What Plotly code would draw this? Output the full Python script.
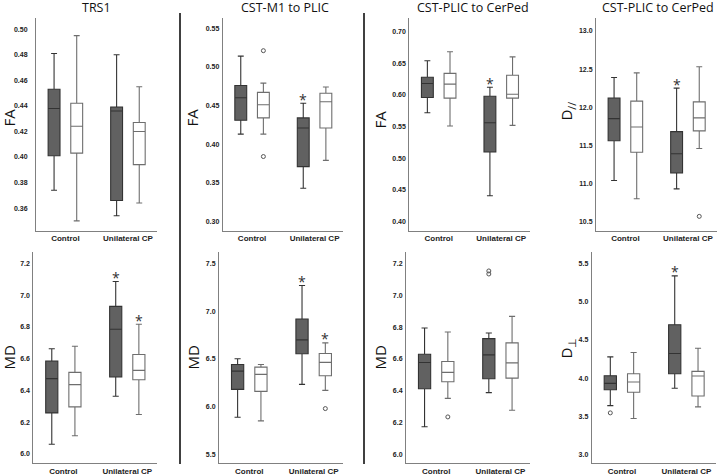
import plotly.graph_objects as go

CATEGORIES = ["Control", "Unilateral CP"]
PANEL_TITLES = ["TRS1", "CST-M1 to PLIC", "CST-PLIC to CerPed", "CST-PLIC to CerPed"]
Y_TITLES = ["FA", "FA", "FA", "D<sub>//</sub>", "MD", "MD", "MD", "D<sub>\u22a5</sub>"]

# per category: [lower whisker, Q1, median, Q3, upper whisker]
TRS1_FA_DARK = [[0.374, 0.401, 0.438, 0.453, 0.481], [0.354, 0.366, 0.436, 0.439, 0.480]]
TRS1_FA_LIGHT = [[0.350, 0.403, 0.424, 0.442, 0.495], [0.364, 0.394, 0.420, 0.427, 0.455]]
CSTM1_FA_DARK = [[0.413, 0.431, 0.460, 0.476, 0.514], [0.343, 0.371, 0.421, 0.434, 0.453]]
CSTM1_FA_LIGHT = [[0.413, 0.434, 0.451, 0.467, 0.479], [0.379, 0.421, 0.455, 0.466, 0.474]]
PLIC_FA_DARK = [[0.572, 0.596, 0.618, 0.628, 0.654], [0.441, 0.510, 0.556, 0.598, 0.612]]
PLIC_FA_LIGHT = [[0.551, 0.595, 0.617, 0.634, 0.668], [0.552, 0.595, 0.601, 0.631, 0.660]]
PLIC_DPAR_DARK = [[11.04, 11.56, 11.85, 12.12, 12.39], [10.93, 11.14, 11.39, 11.68, 12.25]]
PLIC_DPAR_LIGHT = [[10.80, 11.41, 11.74, 12.08, 12.45], [11.46, 11.69, 11.86, 12.07, 12.53]]
TRS1_MD_DARK = [[6.061, 6.259, 6.475, 6.585, 6.663], [6.364, 6.485, 6.786, 6.930, 7.087]]
TRS1_MD_LIGHT = [[6.115, 6.297, 6.437, 6.514, 6.679], [6.249, 6.468, 6.527, 6.627, 6.817]]
CSTM1_MD_DARK = [[5.892, 6.183, 6.373, 6.443, 6.502], [6.235, 6.554, 6.699, 6.918, 7.268]]
CSTM1_MD_LIGHT = [[5.854, 6.162, 6.339, 6.415, 6.443], [6.172, 6.325, 6.464, 6.557, 6.668]]
PLIC_MD_DARK = [[6.175, 6.414, 6.578, 6.630, 6.794], [6.389, 6.476, 6.626, 6.728, 6.763]]
PLIC_MD_LIGHT = [[6.353, 6.457, 6.516, 6.584, 6.769], [6.279, 6.480, 6.576, 6.701, 6.867]]
PLIC_DPERP_DARK = [[3.641, 3.849, 3.932, 4.031, 4.278], [3.867, 4.057, 4.321, 4.698, 5.335]]
PLIC_DPERP_LIGHT = [[3.472, 3.815, 3.949, 4.057, 4.334], [3.624, 3.767, 4.027, 4.088, 4.391]]

# outliers per category
CSTM1_FA_LIGHT_OUT = [[0.521, 0.384], []]
PLIC_DPAR_LIGHT_OUT = [[], [10.57]]
CSTM1_MD_LIGHT_OUT = [[], [5.982]]
PLIC_MD_LIGHT_OUT = [[6.237], []]
PLIC_MD_DARK_OUT = [[], [7.152, 7.133]]
PLIC_DPERP_DARK_OUT = [[3.546], []]
NO_OUT = [[], []]

# significance asterisks: category indices per series, per panel
SIG_DARK = [[], [1], [1], [1], [1], [1], [], [1]]
SIG_LIGHT = [[], [], [], [], [1], [1], [], []]

Y_RANGES = [[0.3423, 0.5086], [0.288, 0.563], [0.3858, 0.721], [10.382, 13.166],
            [5.941, 7.275], [5.410, 7.621], [5.946, 7.273], [2.887, 5.652]]
Y_DTICK = [0.02, 0.05, 0.05, 0.5, 0.2, 0.5, 0.2, 0.5]
Y_TICK0 = [0.36, 0.30, 0.40, 10.5, 6.0, 5.5, 6.0, 3.0]
Y_FMT = [".2f", ".2f", ".2f", ".1f", ".1f", ".1f", ".1f", ".1f"]

DARK = [TRS1_FA_DARK, CSTM1_FA_DARK, PLIC_FA_DARK, PLIC_DPAR_DARK,
        TRS1_MD_DARK, CSTM1_MD_DARK, PLIC_MD_DARK, PLIC_DPERP_DARK]
LIGHT = [TRS1_FA_LIGHT, CSTM1_FA_LIGHT, PLIC_FA_LIGHT, PLIC_DPAR_LIGHT,
         TRS1_MD_LIGHT, CSTM1_MD_LIGHT, PLIC_MD_LIGHT, PLIC_DPERP_LIGHT]
DARK_OUT = [NO_OUT, NO_OUT, NO_OUT, NO_OUT, NO_OUT, NO_OUT, PLIC_MD_DARK_OUT, PLIC_DPERP_DARK_OUT]
LIGHT_OUT = [NO_OUT, CSTM1_FA_LIGHT_OUT, NO_OUT, PLIC_DPAR_LIGHT_OUT,
             NO_OUT, CSTM1_MD_LIGHT_OUT, PLIC_MD_LIGHT_OUT, NO_OUT]

W, H = 720, 476
# panel pixel frames: (left, right, top, bottom)
FRAMES = [(36, 156.7, 18.3, 231.7), (222.7, 343.3, 18.3, 231.7),
          (409.3, 530, 18.3, 231.7), (596, 716.7, 18.3, 231.7),
          (33.3, 156.7, 252.7, 465.3), (219, 343.3, 252.7, 465.3),
          (406, 530, 252.7, 465.3), (591.7, 716, 252.7, 465.3)]
POS = [1, 2]
OFF = 0.181
BW = 0.19

fig = go.Figure()
annotations = []
AX_COLOR = "#808080"

for i in range(8):
    xa = "x" if i == 0 else f"x{i+1}"
    ya = "y" if i == 0 else f"y{i+1}"
    for stats, outs, dx, fill, lc in [(DARK[i], DARK_OUT[i], -OFF, "#616161", "#333333"),
                                       (LIGHT[i], LIGHT_OUT[i], OFF, "#ffffff", "#6e6e6e")]:
        fig.add_trace(go.Box(
            x=[p + dx for p in POS],
            lowerfence=[s[0] for s in stats], q1=[s[1] for s in stats],
            median=[s[2] for s in stats], q3=[s[3] for s in stats],
            upperfence=[s[4] for s in stats],
            width=BW, fillcolor=fill, line=dict(color=lc, width=1.1),
            whiskerwidth=0.5, boxpoints=False, showlegend=False,
            hoverinfo="skip", xaxis=xa, yaxis=ya))
        ox, oy = [], []
        for k, vals in enumerate(outs):
            for v in vals:
                ox.append(POS[k] + dx)
                oy.append(v)
        if ox:
            fig.add_trace(go.Scatter(x=ox, y=oy, mode="markers", showlegend=False,
                                     marker=dict(symbol="circle-open", size=4, color="#555555",
                                                 line=dict(width=1)),
                                     xaxis=xa, yaxis=ya))
    for sig, stats, dx in [(SIG_DARK[i], DARK[i], -OFF), (SIG_LIGHT[i], LIGHT[i], OFF)]:
        for k in sig:
            annotations.append(dict(x=POS[k] + dx, y=stats[k][4], xref=xa, yref=ya,
                                    text="*", showarrow=False, yanchor="middle", yshift=4,
                                    font=dict(family="Open Sans", size=14, color="#333333")))
    l, r, t, b = FRAMES[i]
    fig.layout[("xaxis" if i == 0 else f"xaxis{i+1}")] = dict(
        domain=[l / W, r / W], range=[0.53, 2.46], anchor=ya,
        tickvals=POS, ticktext=CATEGORIES, showline=True, linecolor=AX_COLOR, linewidth=1,
        showgrid=False, zeroline=False, ticks="",
        tickfont=dict(family="Liberation Sans", size=8, color="#222222", weight="bold"))
    fig.layout[("yaxis" if i == 0 else f"yaxis{i+1}")] = dict(
        domain=[1 - b / H, 1 - t / H], range=Y_RANGES[i], anchor=xa,
        tick0=Y_TICK0[i], dtick=Y_DTICK[i], tickformat=Y_FMT[i],
        showline=True, linecolor=AX_COLOR, linewidth=1, showgrid=False, zeroline=False,
        ticks="", ticklabelstandoff=6 if i == 0 else 1,
        tickfont=dict(family="Liberation Sans", size=7, color="#222222", weight="bold"))

TITLE_X = [96.7, 285, 473, 658]
for j, txt in enumerate(PANEL_TITLES):
    annotations.append(dict(x=TITLE_X[j] / W, y=1 - 8 / H, xref="paper", yref="paper",
                            text=txt, showarrow=False, xanchor="center", yanchor="middle",
                            font=dict(family="Open Sans", size=12.5, color="#111111")))

YT_X = [9, 192, 380, 567, 9, 193, 380, 567]
YT_Y = [118, 118, 120, 112, 359, 359, 359, 350]
for i, txt in enumerate(Y_TITLES):
    annotations.append(dict(x=YT_X[i] / W, y=1 - YT_Y[i] / H, xref="paper", yref="paper",
                            text=txt, showarrow=False, textangle=-90,
                            xanchor="center", yanchor="middle",
                            font=dict(family="Open Sans", size=15, color="#111111")))

shapes = []
for xp in [180, 364]:
    shapes.append(dict(type="line", xref="paper", yref="paper",
                       x0=xp / W, x1=xp / W, y0=1 - 13 / H, y1=1 - 466 / H,
                       line=dict(color="#000000", width=1.5)))

fig.update_layout(width=W, height=H, margin=dict(l=0, r=0, t=0, b=0),
                  paper_bgcolor="white", plot_bgcolor="white",
                  annotations=annotations, shapes=shapes, showlegend=False)

fig.write_html("out.html", config={"displayModeBar": False},
               post_script="document.body.style.margin='0';document.body.style.overflow='hidden';")
